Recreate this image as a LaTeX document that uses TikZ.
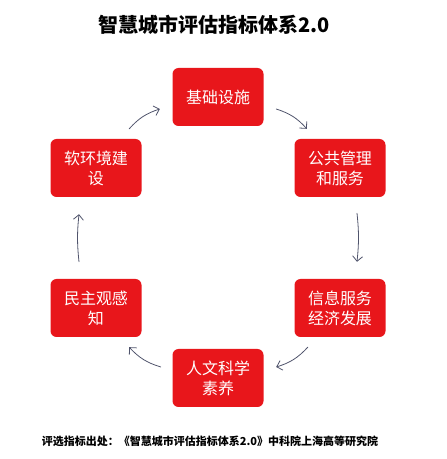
\documentclass[tikz,border=0pt]{standalone}
\usepackage{fontspec}
\newfontfamily\cjk{Noto Sans CJK SC}
\usetikzlibrary{arrows.meta}
\definecolor{boxred}{HTML}{E8161B}
\definecolor{arrowgray}{HTML}{50546C}
\begin{document}
\begin{tikzpicture}[x=1pt,y=1pt,line cap=round,line join=round,
  every node/.style={font=\cjk},
  indexbox/.style={fill=boxred,rounded corners=6pt,minimum width=91pt,minimum height=58pt,
    text=white,align=center,font=\cjk\fontsize{16}{20}\selectfont,inner sep=2pt},
  cyclearrow/.style={draw=arrowgray,line width=0.8pt,-{Straight Barb[length=5pt,width=10pt]},bend left=#1},
  cyclearrow/.default=15]
  % Six index groups placed on a ring, linked clockwise by thin curved arrows.
  \useasboundingbox (0,0) rectangle (447,459);
  \node[font=\cjk\bfseries\fontsize{20}{24}\selectfont] (title) at (214,434) {智慧城市评估指标体系2.0};

  \node[indexbox] (base) at (218,362) {基础设施};
  \node[indexbox] (pub) at (340,291) {公共管理\\和服务};
  \node[indexbox] (info) at (340,151) {信息服务\\经济发展};
  \node[indexbox] (human) at (218,81) {人文科学\\素养};
  \node[indexbox] (demo) at (96,151) {民主观感\\知};
  \node[indexbox] (soft) at (96,291) {软环境建\\设};

  \draw[cyclearrow] ([shift={(-12.5,10)}]soft.north east) to ([shift={(-12.5,-12)}]base.west);
  \draw[cyclearrow] ([shift={(12.5,-12)}]base.east) to ([shift={(12.5,10)}]pub.north west);
  \draw[cyclearrow=6] ([shift={(17,-16)}]pub.south) to ([shift={(17,17)}]info.north);
  \draw[cyclearrow] ([shift={(13.5,-10)}]info.south west) to ([shift={(12.5,11)}]human.east);
  \draw[cyclearrow] ([shift={(-11.5,11)}]human.west) to ([shift={(-12.5,-10)}]demo.south east);
  \draw[cyclearrow=6] ([shift={(-17,17)}]demo.north) to ([shift={(-17,-17)}]soft.south);

  \node[font=\cjk\bfseries\fontsize{11}{13}\selectfont] (source) at (210,18) {评选指标出处：《智慧城市评估指标体系2.0》中科院上海高等研究院};
\end{tikzpicture}
\end{document}
